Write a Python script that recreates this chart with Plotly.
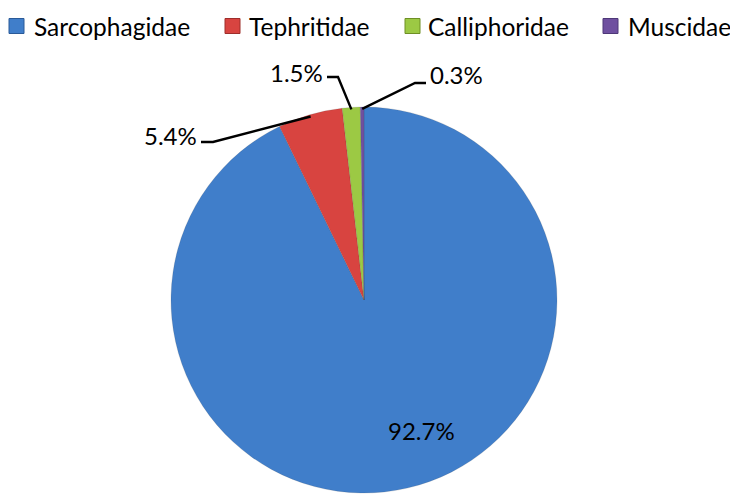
import math
import plotly.graph_objects as go

families = ["Sarcophagidae", "Tephritidae", "Calliphoridae", "Muscidae"]
percent = [92.7, 5.4, 1.5, 0.3]
labels_txt = ["92.7%", "5.4%", "1.5%", "0.3%"]
colors = ["#407ECA", "#D84440", "#9CC944", "#6F50A0"]
edge_colors = ["#2A5A98", "#9E2E2B", "#6E8F25", "#4E3878"]

W, H = 730, 495
# pie geometry in pixels
CX, CY, R = 364, 300, 193

def px(x):
    return x / W

def py(y):
    return 1 - y / H

fig = go.Figure(go.Pie(
    labels=families,
    values=percent,
    sort=False,
    direction="clockwise",
    rotation=0,
    textinfo="none",
    hoverinfo="label+percent",
    marker=dict(colors=colors, line=dict(color="rgba(60,60,60,0.25)", width=0.6)),
    domain=dict(x=[px(CX - R), px(CX + R)], y=[py(CY + R), py(CY - R)]),
    showlegend=False,
))

# mid angles (clockwise from 12 o'clock) from data
total = sum(percent)
mids = []
acc = 0
for v in percent:
    mids.append((acc + v / 2) / total * 2 * math.pi)
    acc += v

def on_pie(i, frac):
    a = mids[i]
    return CX + frac * R * math.sin(a), CY - frac * R * math.cos(a)

FONT = dict(family="Lato, Calibri, sans-serif", size=24, color="#000000")
LEG_FONT = dict(family="Lato, Calibri, sans-serif", size=24.5, color="#000000")

annotations = []
shapes = []
# data label layout: text center, elbow start, elbow end (pixels)
label_layout = {
    0: dict(text=(422, 430)),
    1: dict(text=(170, 135), h0=(201, 142), h1=(213, 142)),
    2: dict(text=(296, 72), h0=(327, 77), h1=(338, 77)),
    3: dict(text=(456, 75), h0=(426, 83), h1=(415, 83)),
}
for i, lay in label_layout.items():
    tx, ty = lay["text"]
    annotations.append(dict(x=px(tx), y=py(ty), xref="paper", yref="paper",
                            text=labels_txt[i], showarrow=False, font=FONT,
                            xanchor="center", yanchor="middle"))
    if "h0" in lay:
        ex, ey = on_pie(i, 0.99)
        pts = [lay["h0"], lay["h1"], (ex, ey)]
        path = "M {} {} L {} {} L {} {}".format(
            px(pts[0][0]), py(pts[0][1]), px(pts[1][0]), py(pts[1][1]),
            px(pts[2][0]), py(pts[2][1]))
        shapes.append(dict(type="path", path=path, xref="paper", yref="paper",
                           line=dict(color="#000000", width=2.4)))

# legend (top row): marker left edge and text start, in pixels
legend_marker_x = [9, 225, 405, 603]
legend_text_x = [32, 247, 426, 626]
LEG_Y = 26
MS = 15
for i, name in enumerate(families):
    mx = legend_marker_x[i]
    shapes.append(dict(type="rect", xref="paper", yref="paper",
                       x0=px(mx), x1=px(mx + MS), y0=py(LEG_Y + MS / 2), y1=py(LEG_Y - MS / 2),
                       fillcolor=colors[i], line=dict(color=edge_colors[i], width=1)))
    annotations.append(dict(x=px(legend_text_x[i]), y=py(LEG_Y), xref="paper", yref="paper",
                            text=name, showarrow=False, font=LEG_FONT,
                            xanchor="left", yanchor="middle"))

fig.update_layout(
    width=W, height=H,
    margin=dict(l=0, r=0, t=0, b=0, autoexpand=False),
    paper_bgcolor="white",
    plot_bgcolor="white",
    font=FONT,
    showlegend=False,
    annotations=annotations,
    shapes=shapes,
)

fig.write_html("out.html", config={"displayModeBar": False},
               post_script="document.body.style.margin='0';document.body.style.overflow='hidden';")
